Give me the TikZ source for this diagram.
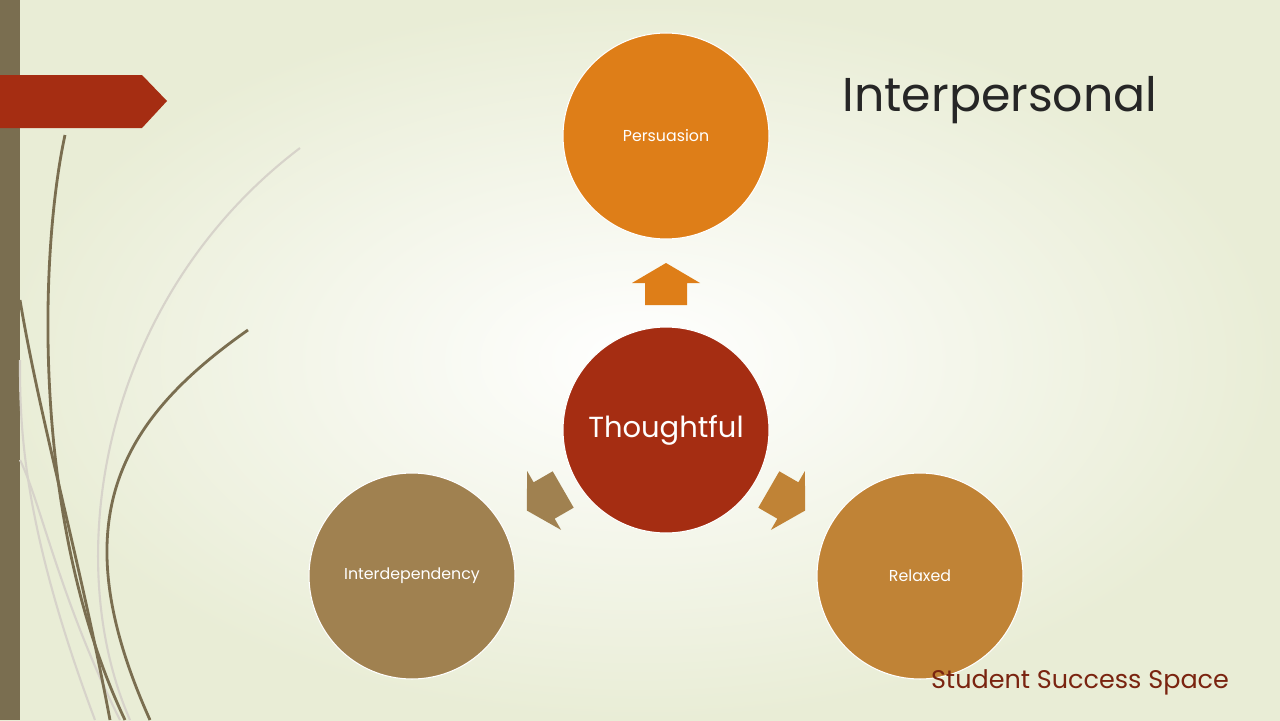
\documentclass[tikz,border=0pt]{standalone}
\usepackage{fontspec}
\setmainfont{Poppins}
\definecolor{bgedge}{HTML}{E9EDD6}
\definecolor{stem}{HTML}{7A6E50}
\definecolor{rust}{HTML}{A52D12}
\definecolor{orng}{HTML}{DE7E18}
\definecolor{tan}{HTML}{A08150}
\definecolor{ochre}{HTML}{C08336}
\definecolor{darkred}{HTML}{7A2410}
\tikzset{
  bubble/.style={circle, draw=white, line width=0.6pt, minimum size=4.12cm, text=white, font=\fontsize{9}{11}\selectfont},
  grass/.style={line width=1.6pt, stem},
  palegrass/.style={line width=1.2pt, stem!30}
}
\newcommand{\blockarrow}[3]{%
  \fill[#3, shift={(#1)}, rotate=#2] (0,-21) -- (34,-1) -- (21,-1) -- (21,21) -- (-21,21) -- (-21,-1) -- (-34,-1) -- cycle;}
\begin{document}
\begin{tikzpicture}[x=0.02cm,y=-0.02cm]
			%%%%% BACKGROUND %%%%%
			\shade[inner color=white, outer color=bgedge] (0,0) rectangle (1280,720);
			\useasboundingbox (0,0) rectangle (1280,720);
			
			\fill[stem] (0,0) rectangle (20,720);
			\fill[rust] (0,75) -- (142,75) -- (167,101) -- (142,128) -- (0,128) -- cycle;
			
			% grass
			\draw[palegrass] (130,720) .. controls (60,560) and (100,300) .. (300,148);
			\draw[palegrass] (95,720) .. controls (20,520) and (20,420) .. (20,360);
			\draw[palegrass] (120,720) .. controls (60,600) and (40,500) .. (20,460);
			\draw[grass] (125,720) .. controls (30,520) and (40,250) .. (65,135);
			\draw[grass] (150,720) .. controls (60,520) and (120,420) .. (248,330);
			\draw[grass] (110,720) .. controls (80,560) and (40,420) .. (20,300);
			
			%%%%% NODES %%%%%
			\node[bubble, fill=orng] (persuasion) at (666,136) {Persuasion};
			\node[bubble, fill=rust, font=\fontsize{16.5}{20}\selectfont] (thoughtful) at (666,430) {Thoughtful};
			\node[bubble, fill=tan] (interdep) at (412,576) {Interdependency};
			\node[bubble, fill=ochre] (relaxed) at (920,576) {Relaxed};
			
			\blockarrow{666,284}{0}{orng}
			\blockarrow{545,500}{120}{tan}
			\blockarrow{787,500}{-120}{ochre}
			
			\node[font=\fontsize{27}{32}\selectfont, text=black!85] (title) at (1000,100) {Interpersonal};
			\node[font=\fontsize{14.5}{17}\selectfont, text=darkred] (brand) at (1080,682) {Student Success Space};
\end{tikzpicture}
\end{document}
